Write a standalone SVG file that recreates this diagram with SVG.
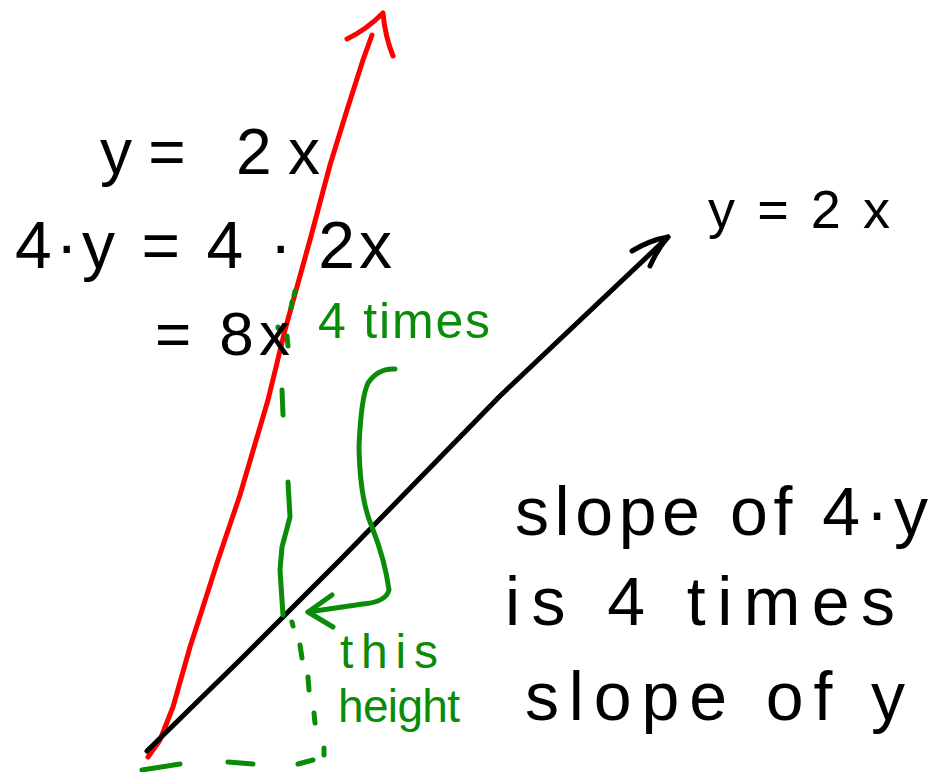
<svg xmlns="http://www.w3.org/2000/svg" width="934" height="772" viewBox="0 0 934 772">
<style>
.ink{fill:none;stroke-linecap:round;stroke-linejoin:round;stroke-width:5}
.red{stroke:#ff0000}
.blk{stroke:#000}
.grn{stroke:#0a8c0a}
.t{font-family:"Liberation Sans","DejaVu Sans",sans-serif;fill:#000}
.tg{font-family:"Liberation Sans","DejaVu Sans",sans-serif;fill:#0a8c0a}
</style>
<rect width="934" height="772" fill="#fff"/>
<g id="connectors">
  <g id="red-line">
    <path class="ink red" d="M148,757 L160,740 L173,707 L190,647 L202,610 L218,560 L240,495 L268,400 L285,330 L310,240 L330,165 L347,110 L363,60 L372,35"/>
    <path class="ink red" d="M347,39 Q366,30 383,13 Q385,36 393,56"/>
  </g>
  <g id="black-line">
    <path class="ink blk" d="M147,751 L240,660 L340,560 L500,396 L668,237"/>
    <path class="ink blk" d="M632,251 Q650,240 668,237 Q657,250 650,266"/>
  </g>
  <g id="green-marks">
    <path class="ink grn" d="M295,291 L294,295 M292,302 L291,308 M278,327 L278,328 M287,336 L288,346 M282,390 L283,415"/>
    <path class="ink grn" d="M288,482 L290,517 L282,547 L280,570 L283,615"/>
    <path class="ink grn" d="M395,369 Q378,368 368,383 Q361,398 359,447 Q360,500 372,527 Q385,560 389,590 Q386,602 363,604 L308,612"/>
    <path class="ink grn" d="M332,595 L308,612 L333,627"/>
    <path class="ink grn" d="M292,622 L293,626 M300,645 L302,658 M308,677 L309,690 M314,713 L315,723 M324,748 L324,755"/>
    <path class="ink grn" d="M142,770 L180,764 M228,762 L253,764 M298,764 L313,760"/>
  </g>
</g>
<g id="eq1"><text class="t" x="100" y="174" font-size="64" textLength="220" lengthAdjust="spacing">y= 2x</text></g>
<g id="eq2"><text class="t" x="15" y="268" font-size="66" textLength="377" lengthAdjust="spacing">4·y = 4 · 2x</text></g>
<g id="eq3"><text class="t" x="155" y="355" font-size="62" textLength="135" lengthAdjust="spacing">= 8x</text></g>
<g id="label-black"><text class="t" x="708" y="228" font-size="54" textLength="182" lengthAdjust="spacing">y=2x</text></g>
<g id="label-4times"><text class="tg" x="318" y="338" font-size="50" textLength="172" lengthAdjust="spacing">4 times</text></g>
<g id="label-this"><text class="tg" x="340" y="668" font-size="48" textLength="98" lengthAdjust="spacing">this</text></g>
<g id="label-height"><text class="tg" x="338" y="722" font-size="46" textLength="122" lengthAdjust="spacing">height</text></g>
<g id="note">
  <text class="t" x="515" y="535" font-size="68" textLength="413" lengthAdjust="spacing">slope of 4·y</text>
  <text class="t" x="505" y="625" font-size="68" textLength="390" lengthAdjust="spacing">is 4 times</text>
  <text class="t" x="525" y="720" font-size="68" textLength="380" lengthAdjust="spacing">slope of y</text>
</g>
</svg>
